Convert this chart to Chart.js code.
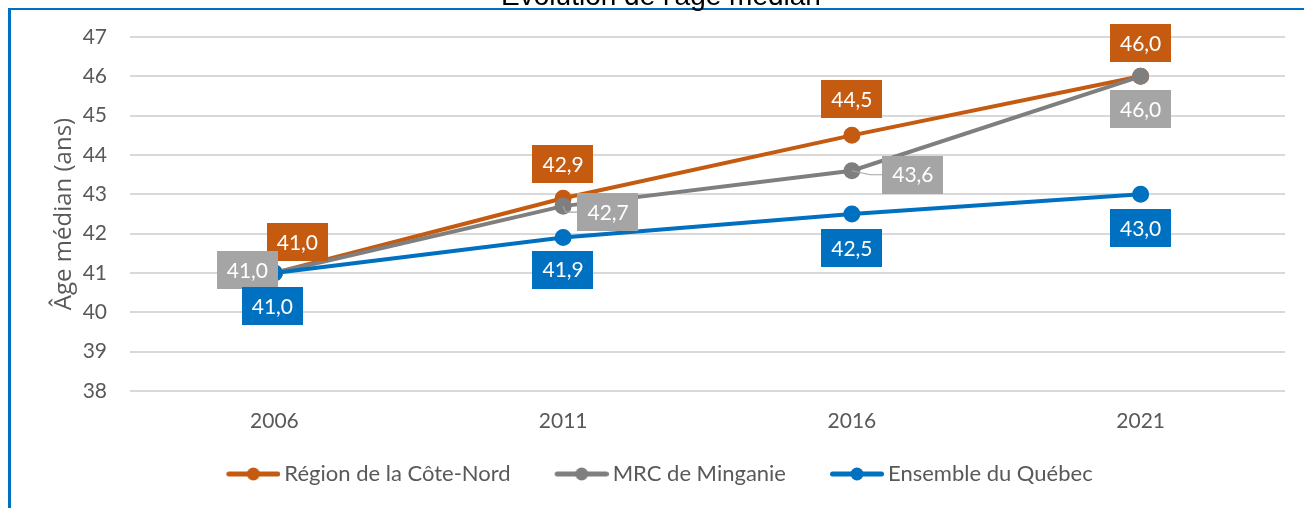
<!DOCTYPE html>
<html>
<head>
<meta charset="utf-8">
<script src="https://cdn.jsdelivr.net/npm/chart.js@4.4.1/dist/chart.umd.min.js"></script>
<style>
  html, body { margin: 0; padding: 0; background: #ffffff; overflow: hidden; }
  #frame { position: absolute; left: 8px; top: 8px; width: 1400px; height: 600px;
           border-top: 2px solid #0070C0; border-left: 3px solid #0070C0; box-sizing: border-box; }
  #wrap { position: absolute; left: 0; top: 0; width: 1304px; height: 508px; }
</style>
</head>
<body>
<div id="frame"></div>
<div id="wrap"><canvas id="c" width="1304" height="508"></canvas></div>
<script>
// ---- data ----
const chartTitle = "Évolution de l'âge médian";
const yAxisTitle = 'Âge médian (ans)';
const years = ['2006', '2011', '2016', '2021'];
const seriesNames = ['Région de la Côte-Nord', 'MRC de Minganie', 'Ensemble du Québec'];
const coteNord = [41.0, 42.9, 44.5, 46.0];
const minganie = [41.0, 42.7, 43.6, 46.0];
const quebec = [41.0, 41.9, 42.5, 43.0];
const yMin = 38, yMax = 47, yStep = 1;

// ---- styles ----
const lineColors = ['#C55A11', '#7F7F7F', '#0070C0'];
const labelFills = ['#C55A11', '#A5A5A5', '#0070C0'];
const FONT = 'Lato, "Open Sans", sans-serif';
const textGray = '#595959';
// label box centre offsets from each point (layout only)
const labelOffsets = [
  [[23, -31], [0, -34], [0, -36], [0, -33]],
  [[-27, -3], [45, 6], [61, 4], [0, 33]],
  [[-2, 33], [0, 32], [0, 34], [0, 34]]
];
const leaderLines = [[false, false, false, false], [false, true, true, false], [false, false, false, false]];

const LEG_P = 81, LEG_W = 95;
function legendMarker(color) {
  const c = document.createElement('canvas');
  c.width = LEG_W; c.height = 14;
  const g = c.getContext('2d');
  g.strokeStyle = color; g.lineWidth = 5; g.lineCap = 'round';
  g.beginPath(); g.moveTo(LEG_W - 54 + 2.5, 7); g.lineTo(LEG_W - 2.5, 7); g.stroke();
  g.fillStyle = color; g.beginPath(); g.arc(LEG_W - 27, 7, 6.5, 0, Math.PI * 2); g.fill();
  return c;
}

const fmt = v => v.toFixed(1).replace('.', ',');

const labelPlugin = {
  id: 'boxLabels',
  afterDatasetsDraw(chart) {
    const ctx = chart.ctx;
    ctx.save();
    ctx.font = '21px ' + FONT;
    ctx.textAlign = 'center';
    ctx.textBaseline = 'middle';
    chart.data.datasets.forEach((ds, di) => {
      const meta = chart.getDatasetMeta(di);
      meta.data.forEach((pt, i) => {
        const [dx, dy] = labelOffsets[di][i];
        const cx = pt.x + dx, cy = pt.y + dy;
        const txt = fmt(ds.data[i]);
        const w = ctx.measureText(txt).width + 20, h = 38;
        if (leaderLines[di][i]) {
          ctx.strokeStyle = '#A5A5A5'; ctx.lineWidth = 1.2;
          ctx.beginPath(); ctx.moveTo(pt.x, pt.y);
          ctx.lineTo(cx - w / 2 - 12, cy); ctx.lineTo(cx - w / 2, cy); ctx.stroke();
        }
        ctx.fillStyle = labelFills[di];
        ctx.fillRect(Math.round(cx - w / 2), Math.round(cy - h / 2), Math.round(w), h);
        ctx.fillStyle = '#ffffff';
        ctx.fillText(txt, cx, cy + 1);
      });
    });
    ctx.restore();
  },
  afterDraw(chart) {
    const ctx = chart.ctx;
    ctx.save();
    ctx.font = '28px "Liberation Sans", Arial, sans-serif';
    ctx.fillStyle = '#000000';
    ctx.textAlign = 'center';
    ctx.textBaseline = 'alphabetic';
    ctx.fillText(chartTitle, 661, 5);
    ctx.restore();
  }
};

const seriesData = [coteNord, minganie, quebec];
const datasets = seriesData.map((d, i) => ({
  label: seriesNames[i],
  data: d,
  borderColor: lineColors[i],
  backgroundColor: lineColors[i],
  pointBackgroundColor: lineColors[i],
  pointBorderColor: lineColors[i],
  pointRadius: 6.5,
  pointHoverRadius: 6.5,
  borderWidth: 4,
  tension: 0,
  order: 3 - i,
  pointStyle: 'circle'
}));

new Chart(document.getElementById('c'), {
  type: 'line',
  data: { labels: years, datasets },
  options: {
    responsive: false,
    animation: false,
    events: [],
    layout: { padding: { left: 0, right: 19, top: 37, bottom: 13 } },
    plugins: {
      title: { display: false },
      tooltip: { enabled: false },
      legend: {
        position: 'bottom',
        labels: {
          usePointStyle: true,
          pointStyleWidth: LEG_P,
          padding: 10,
          color: textGray,
          font: { size: 22, family: FONT },
          generateLabels(chart) {
            return chart.data.datasets.map((ds, i) => ({
              text: ds.label,
              pointStyle: legendMarker(lineColors[i]),
              fillStyle: lineColors[i],
              strokeStyle: lineColors[i],
              lineWidth: 0,
              fontColor: textGray,
              datasetIndex: i,
              hidden: false
            }));
          }
        }
      }
    },
    scales: {
      x: {
        offset: true,
        grid: { display: false, drawTicks: false },
        border: { display: false },
        ticks: { color: textGray, font: { size: 21, family: FONT }, padding: 18 },
        afterFit(s) { s.height = 62; }
      },
      y: {
        min: yMin, max: yMax,
        grid: { color: '#D9D9D9', lineWidth: 2, drawTicks: false },
        border: { display: false },
        ticks: { stepSize: yStep, color: textGray, font: { size: 21, family: FONT }, padding: 23 },
        title: { display: true, text: yAxisTitle, color: textGray, font: { size: 24, family: '"Open Sans", sans-serif' }, padding: { top: 50, bottom: 0 } },
        afterFit(s) { s.width = 130; }
      }
    }
  },
  plugins: [labelPlugin]
});
</script>
</body>
</html>
